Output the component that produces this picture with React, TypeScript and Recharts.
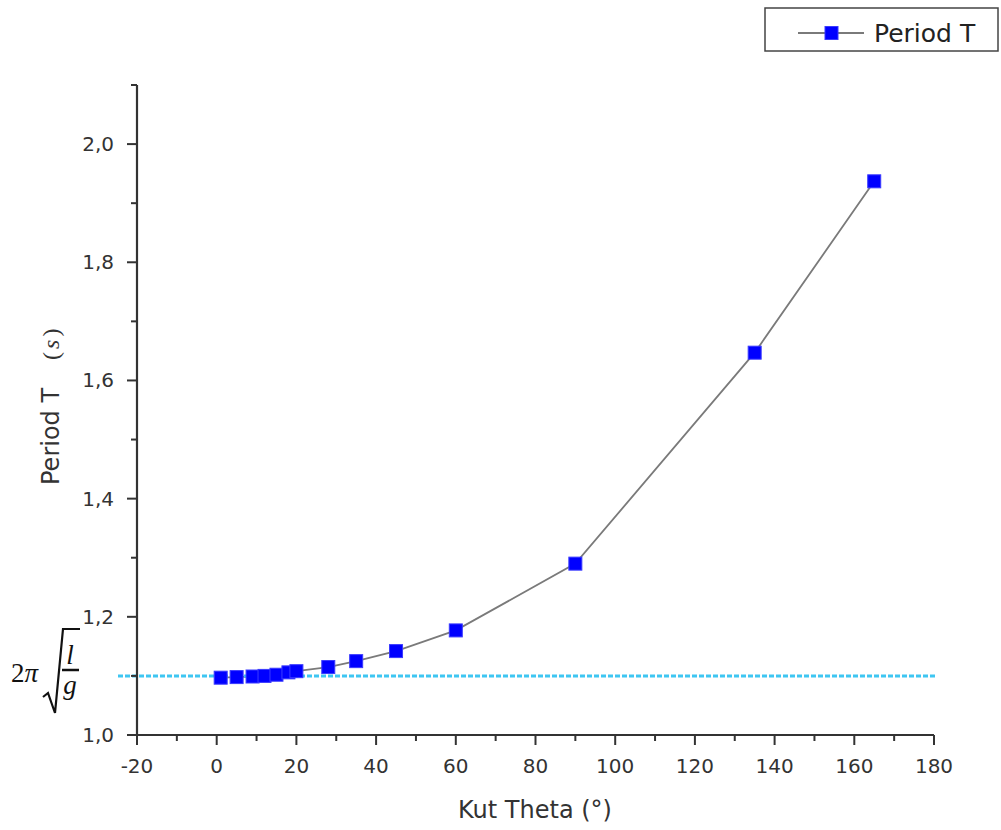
import React from 'react'
import { LineChart, Line, XAxis, YAxis, ReferenceLine } from 'recharts'

// kut (stupnjevi) i izmjereni period (s)
const angles = [1, 5, 9, 12, 15, 18, 20, 28, 35, 45, 60, 90, 135, 165]
const periods = [1.097, 1.098, 1.099, 1.1, 1.102, 1.106, 1.108, 1.115, 1.125, 1.142, 1.177, 1.29, 1.647, 1.937]

const xTicks = [-20, -10, 0, 10, 20, 30, 40, 50, 60, 70, 80, 90, 100, 110, 120, 130, 140, 150, 160, 170, 180]
const yTicks = [1.0, 1.1, 1.2, 1.3, 1.4, 1.5, 1.6, 1.7, 1.8, 1.9, 2.0, 2.1]
const smallAngleT = 1.1

const data = angles.map((a, i) => ({ theta: a, T: periods[i] }))

const axisColor = '#333'
const sans = '"DejaVu Sans", Arial, sans-serif'
const mathFont = '"Liberation Serif", serif'

const XTick = ({ x, y, payload }: any) => {
  const major = payload.value % 20 === 0
  return (
    <g>
      <line x1={x} y1={y} x2={x} y2={y + (major ? 10 : 6)} stroke={axisColor} strokeWidth={2} />
      {major && (
        <text x={x} y={y + 38} textAnchor="middle" fontSize={20} fontFamily={sans} fill="#333">
          {payload.value}
        </text>
      )}
    </g>
  )
}

const YTick = ({ x, y, payload }: any) => {
  const major = Math.round(payload.value * 10) % 2 === 0
  return (
    <g>
      <line x1={x - (major ? 10 : 6)} y1={y} x2={x} y2={y} stroke={axisColor} strokeWidth={2} />
      {major && (
        <text x={x - 23} y={y + 7} textAnchor="end" fontSize={20} fontFamily={sans} fill="#333">
          {payload.value.toFixed(1).replace('.', ',')}
        </text>
      )}
    </g>
  )
}

const SquareDot = ({ cx, cy }: any) => (
  <rect x={cx - 6.5} y={cy - 6.5} width={13} height={13} fill="#0000ff" stroke="#3a3aff" strokeWidth={1} />
)

// isprekidana linija malih kuteva, produzena lijevo od osi
const DashedRef = ({ x1, y1, x2, y2 }: any) => (
  <line x1={x1 - 19} y1={y1} x2={x2 + 1} y2={y2} stroke="#3ec6f2" strokeWidth={3} strokeDasharray="5 2" />
)

export default function App() {
  return (
    <div style={{ position: 'absolute', left: 0, top: 0, width: 1001, height: 830, background: '#fff' }}>
      <LineChart width={1001} height={830} data={data} margin={{ top: 85, right: 67, bottom: 35, left: 37 }}>
        <XAxis
          type="number"
          dataKey="theta"
          domain={[-20, 180]}
          ticks={xTicks}
          interval={0}
          tickSize={0}
          tickMargin={0}
          height={60}
          axisLine={{ stroke: axisColor, strokeWidth: 2.2 }}
          tick={<XTick />}
          label={() => (
            <text x={535} y={818} textAnchor="middle" fontSize={24} fontFamily={sans} fill="#333">
              Kut Theta (°)
            </text>
          )}
        />
        <YAxis
          type="number"
          domain={[1.0, 2.1]}
          ticks={yTicks}
          interval={0}
          tickSize={0}
          tickMargin={0}
          width={100}
          axisLine={{ stroke: axisColor, strokeWidth: 2.2 }}
          tick={<YTick />}
          label={() => (
            <text transform="translate(59 485) rotate(-90)" textAnchor="start" fontSize={24} fontFamily={sans} fill="#333">
              Period T
              <tspan dx={28} fontFamily={mathFont} fontSize={24}>(</tspan>
              <tspan dx={3} fontFamily={mathFont} fontStyle="italic" fontSize={24}>s</tspan>
              <tspan dx={3} fontFamily={mathFont} fontSize={24}>)</tspan>
            </text>
          )}
        />
        <Line
          type="linear"
          dataKey="T"
          stroke="#7a7a7a"
          strokeWidth={1.8}
          dot={<SquareDot />}
          activeDot={false}
          isAnimationActive={false}
        />
        <ReferenceLine y={smallAngleT} shape={<DashedRef />} />
      </LineChart>

      <svg width={1001} height={830} style={{ position: 'absolute', left: 0, top: 0, pointerEvents: 'none' }}>
        {/* 2π·sqrt(l/g) */}
        <text x={11} y={682} fontSize={27} fontFamily={mathFont} fill="#111">
          2<tspan fontStyle="italic">π</tspan>
        </text>
        <path d="M43 697 L48 693 L55 713 L63 629 L80 629" fill="none" stroke="#111" strokeWidth={2.2} />
        <text x={70} y={664} textAnchor="middle" fontSize={27} fontStyle="italic" fontFamily={mathFont} fill="#111">l</text>
        <line x1={62} y1={670} x2={79} y2={670} stroke="#111" strokeWidth={2.5} />
        <text x={70} y={694} textAnchor="middle" fontSize={27} fontStyle="italic" fontFamily={mathFont} fill="#111">g</text>

        {/* legenda */}
        <rect x={765} y={8} width={233} height={43} fill="#fff" stroke="#444" strokeWidth={1.5} />
        <line x1={798} y1={33} x2={864} y2={33} stroke="#7a7a7a" strokeWidth={1.8} />
        <rect x={825} y={26.5} width={13} height={13} fill="#0000ff" stroke="#3a3aff" strokeWidth={1} />
        <text x={874} y={42} fontSize={25} fontFamily={sans} fill="#222">Period T</text>
      </svg>
    </div>
  )
}
